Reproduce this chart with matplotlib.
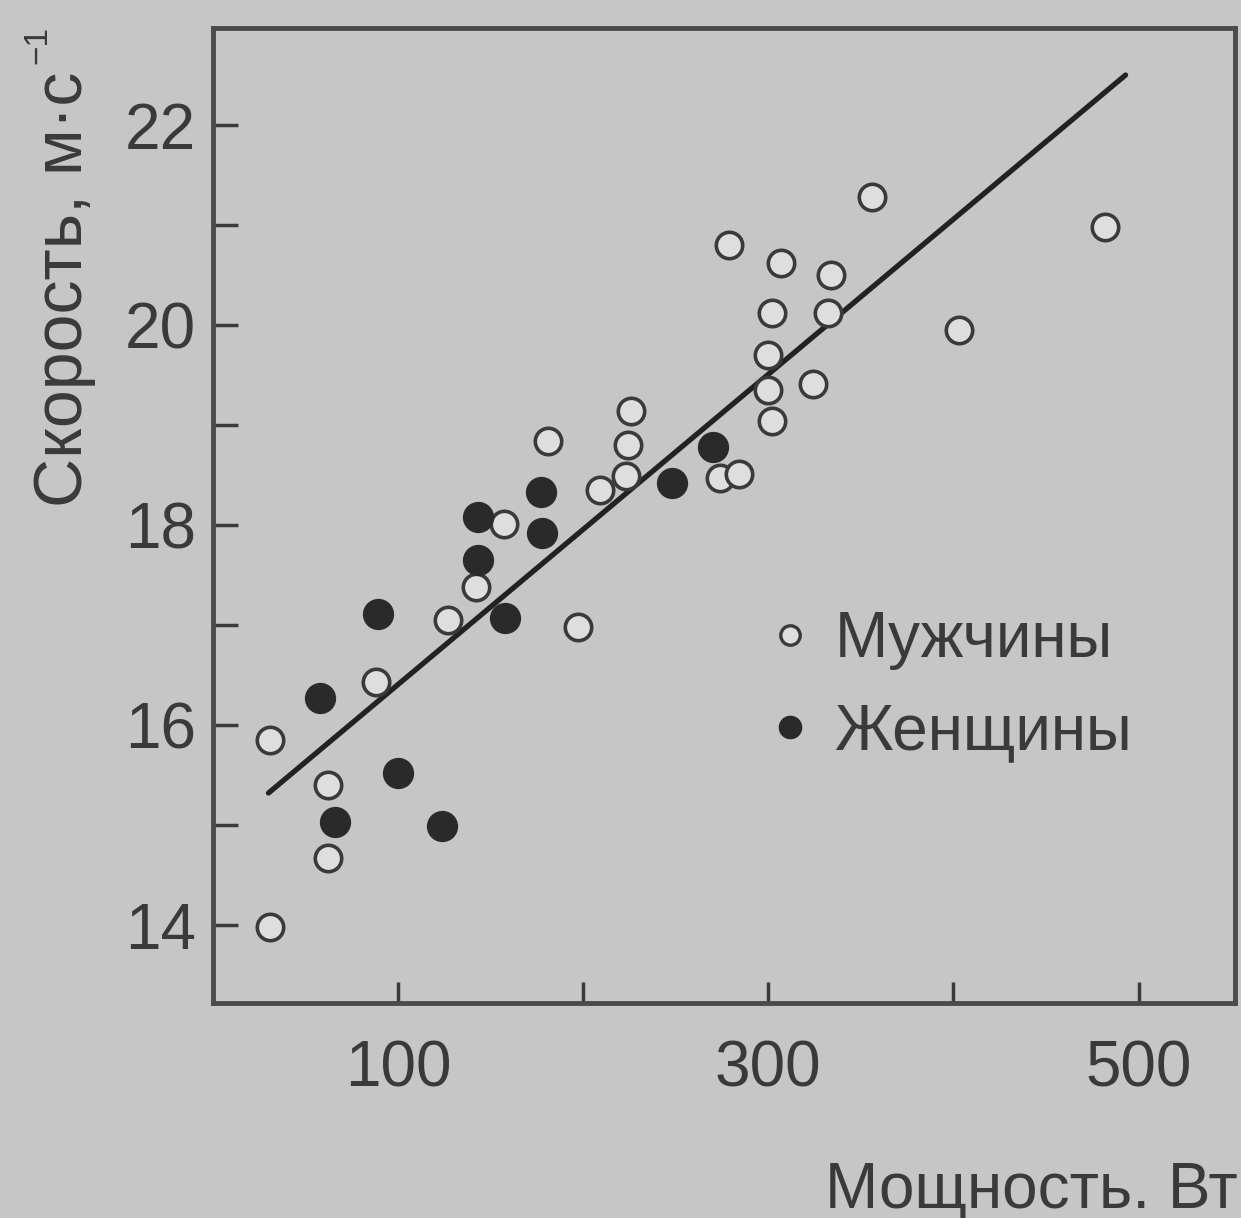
import matplotlib
matplotlib.use("Agg")
import matplotlib.pyplot as plt
from matplotlib.lines import Line2D

plt.rcParams["font.family"] = ["Liberation Sans", "DejaVu Sans"]

# мужчины (open circles): power, W / speed, m/s
men_power = [31, 31, 62, 62, 88, 127, 142, 157, 181, 197, 209, 223, 224, 226,
             274, 284, 279, 300, 300, 302, 302, 307, 324, 334, 332, 356, 403, 482]
men_speed = [15.85, 13.98, 15.40, 14.67, 16.43, 17.05, 17.38, 18.01, 18.84, 16.98,
             18.35, 18.49, 18.80, 19.14, 18.47, 18.51, 20.80, 19.70, 19.35, 19.04,
             20.12, 20.62, 19.41, 20.50, 20.12, 21.28, 19.95, 20.98]

# женщины (filled circles)
women_power = [58, 66, 89, 100, 124, 143, 143, 158, 177, 178, 248, 270]
women_speed = [16.27, 15.03, 17.11, 15.52, 14.99, 18.08, 17.65, 17.07,
               18.33, 17.92, 18.42, 18.78]

# regression line end points
fit_power = [30, 493]
fit_speed = [15.32, 22.50]

x_major = [100, 300, 500]
x_minor = [200, 400]
y_major = [14, 16, 18, 20, 22]
y_minor = [15, 17, 19, 21]

bg = "#c6c6c6"
ink = "#3a3a3a"
dark = "#2a2a2a"

fig = plt.figure(figsize=(12.41, 12.18), dpi=100, facecolor=bg)
ax = fig.add_axes([0.1716, 0.1765, 0.8234, 0.8005], facecolor=bg)

ax.plot(fit_power, fit_speed, color="#222222", lw=3.8, solid_capstyle="round", zorder=2)
ax.plot(men_power, men_speed, ls="none", marker="o", ms=19, mew=2.6,
        mfc="#dedede", mec=ink, zorder=3)
ax.plot(women_power, women_speed, ls="none", marker="o", ms=21, mew=1.5,
        mfc=dark, mec=dark, zorder=3)

ax.set_xlim(0, 552)
ax.set_ylim(13.22, 22.97)

ax.set_xticks(x_major)
ax.set_xticks(x_minor, minor=True)
ax.set_yticks(y_major)
ax.set_yticks(y_minor, minor=True)

ax.tick_params(axis="both", which="both", direction="in", colors=ink,
               labelcolor=ink, labelsize=46, width=2.5)
ax.tick_params(axis="y", which="both", length=18, pad=12)
ax.tick_params(axis="x", which="both", length=15, pad=26)

for side in ["left", "bottom", "top", "right"]:
    ax.spines[side].set_color("#4a4a4a")
    ax.spines[side].set_linewidth(3.5)

# y label with a small superscript drawn separately
fig.text(64 / 1241, 1 - 507 / 1218, "Скорость, м·с", rotation=90,
         ha="center", va="bottom", fontsize=49, color=ink)
fig.text(38 / 1241, 1 - 45 / 1218, "−1", rotation=90,
         ha="center", va="center", fontsize=24, color=ink)
fig.text(1238 / 1241, 1 - 1190 / 1218, "Мощность. Вт", ha="right", va="center",
         fontsize=46, color=ink)

handles = [
    Line2D([], [], ls="none", marker="o", ms=14, mew=2.4, mfc="#dedede", mec=ink),
    Line2D([], [], ls="none", marker="o", ms=16, mfc=dark, mec=dark),
]
leg = ax.legend(handles, ["Мужчины", "Женщины"], loc="center left",
                bbox_to_anchor=(764 / 1241, 1 - 686 / 1218),
                bbox_transform=fig.transFigure, frameon=False, fontsize=46,
                handlelength=0.8, handletextpad=0.3, labelspacing=0.5,
                borderpad=0, borderaxespad=0)
for t in leg.get_texts():
    t.set_color(ink)

fig.savefig("out.png", dpi=100, facecolor=bg)
